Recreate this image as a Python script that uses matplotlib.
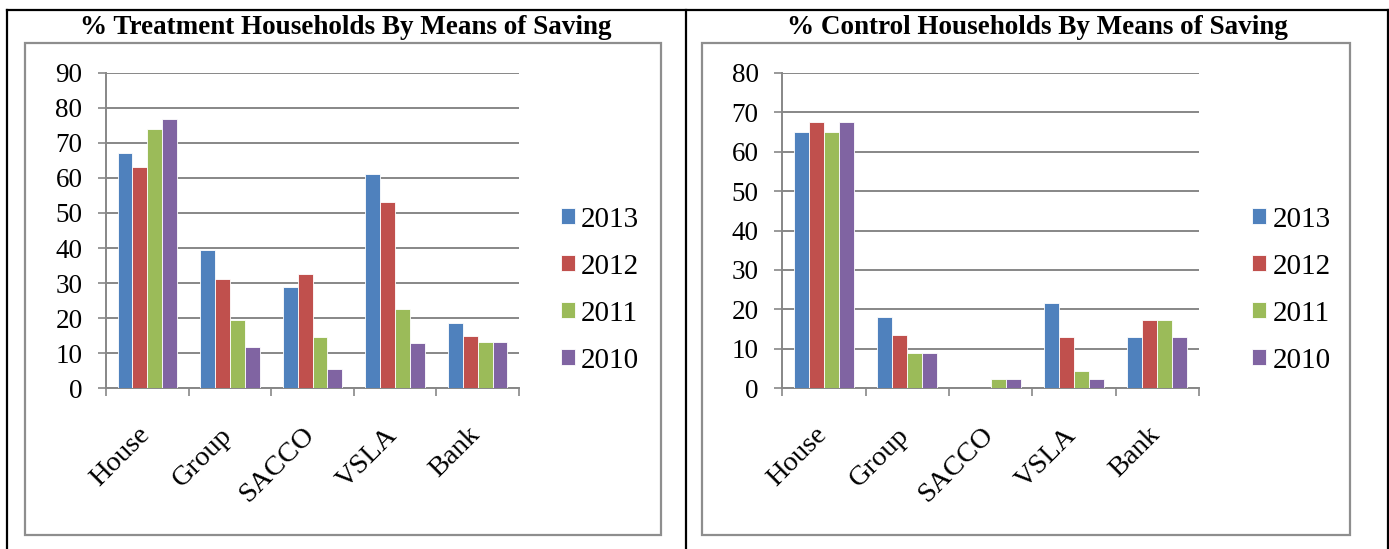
import matplotlib
matplotlib.use("Agg")
import matplotlib.pyplot as plt
from matplotlib.patches import Rectangle
from matplotlib.lines import Line2D
import numpy as np

plt.rcParams['font.family'] = ['Liberation Serif', 'DejaVu Serif']

categories = ["House", "Group", "SACCO", "VSLA", "Bank"]
years = ["2013", "2012", "2011", "2010"]
colors = ["#4F81BD", "#C0504D", "#9BBB59", "#8064A2"]

treatment = {
    "2013": [67.1, 39.3, 29.0, 61.2, 18.7],
    "2012": [63.0, 31.3, 32.7, 53.2, 15.0],
    "2011": [74.0, 19.5, 14.5, 22.5, 13.1],
    "2010": [76.7, 11.7, 5.4, 12.8, 13.1],
}
control = {
    "2013": [64.9, 18.2, 0.0, 21.5, 13.0],
    "2012": [67.6, 13.5, 0.0, 13.0, 17.3],
    "2011": [64.9, 9.0, 2.3, 4.3, 17.3],
    "2010": [67.6, 9.0, 2.3, 2.3, 13.0],
}

W, H = 1389, 549
fig = plt.figure(figsize=(W / 100, H / 100), dpi=100)

GRID = "#878787"


def fx(px):
    return px / W


def fy(py):
    return 1 - py / H


def panel(rect, data, ymax, title, title_x, frame, legend_x):
    # chart border
    x0, y0, x1, y1 = frame
    fig.patches.append(Rectangle((fx(x0), fy(y1)), fx(x1 - x0), (y1 - y0) / H,
                                 transform=fig.transFigure, fill=False,
                                 edgecolor="#8e8e8e", linewidth=1.6))
    fig.text(fx(title_x), fy(27), title, ha="center", va="center",
             fontsize=19.5, fontweight="bold")

    ax = fig.add_axes(rect)
    n = len(categories)
    x = np.arange(n)
    bw = 0.18
    handles = []
    for i, yr in enumerate(years):
        b = ax.bar(x + (i - 1.5) * bw, data[yr], width=bw, color=colors[i],
                   edgecolor="white", linewidth=0.6, zorder=3)
        handles.append(b)
    ax.set_xlim(-0.5, n - 0.5)
    ax.set_ylim(0, ymax)
    ax.set_yticks(np.arange(0, ymax + 1, 10))
    ax.yaxis.grid(True, color=GRID, linewidth=1.4, zorder=0)
    ax.set_axisbelow(True)
    for s in ["top", "right"]:
        ax.spines[s].set_visible(False)
    for s in ["left", "bottom"]:
        ax.spines[s].set_color(GRID)
        ax.spines[s].set_linewidth(1.4)
    ax.set_xticks(np.arange(-0.5, n, 1.0))
    ax.set_xticklabels([])
    ax.tick_params(axis="both", direction="out", length=6, width=1.2,
                   color=GRID)
    ax.tick_params(axis="y", labelsize=19.5, pad=11)
    for i, c in enumerate(categories):
        ax.annotate(c, xy=(i, 0), xycoords=("data", "axes fraction"),
                    xytext=(-1, -31), textcoords="offset points",
                    rotation=45, ha="right", va="center",
                    rotation_mode="anchor", fontsize=20.5)
    ax.legend([h[0] for h in handles], years, loc="center left",
              bbox_to_anchor=(legend_x, 0.311), frameon=False, fontsize=21,
              handlelength=0.48, handleheight=0.48, handletextpad=0.22,
              labelspacing=0.72, borderaxespad=0)
    return ax


panel([fx(106), fy(388.3), fx(519 - 106), (388.3 - 72.7) / H], treatment, 90,
      "% Treatment Households By Means of Saving", 346,
      (25, 42.7, 661, 535), 1.073)
panel([fx(782.3), fy(388.3), fx(1199 - 782.3), (388.3 - 72.7) / H], control, 80,
      "% Control Households By Means of Saving", 1037,
      (702, 42.7, 1350, 535), 1.10)

# outer table rules
lw = 1.6
for seg in [((7, 1388), (10, 10)), ((7, 7), (10, 549)),
            ((686, 686), (10, 549)), ((1388, 1388), (10, 549))]:
    fig.add_artist(Line2D([fx(v) for v in seg[0]], [fy(v) for v in seg[1]],
                          transform=fig.transFigure, color="black",
                          linewidth=lw))

fig.savefig("out.png", dpi=100)
